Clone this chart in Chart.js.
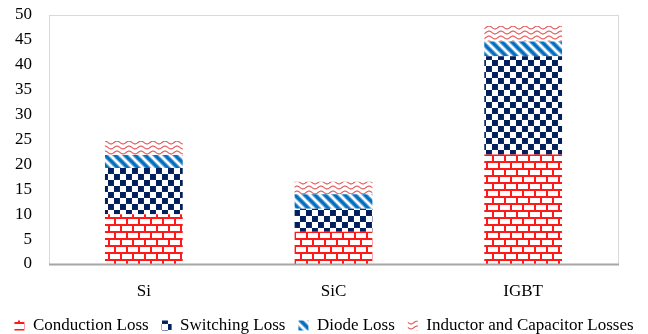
<!DOCTYPE html>
<html>
<head>
<meta charset="utf-8">
<script src="https://cdn.jsdelivr.net/npm/chart.js@4.4.1/dist/chart.umd.min.js"></script>
<style>
  html, body { margin: 0; padding: 0; background: #ffffff; }
  #wrap { width: 648px; height: 334px; position: relative; }
</style>
</head>
<body>
<div id="wrap"><canvas id="c" width="648" height="334"></canvas></div>
<script>
// Loss breakdown per device technology (stacked)
const categories = ['Si', 'SiC', 'IGBT'];
const seriesNames = ['Conduction Loss', 'Switching Loss', 'Diode Loss', 'Inductor and Capacitor Losses'];
const conductionLoss = [10.0, 6.5, 22.0];
const switchingLoss  = [9.3, 4.6, 19.7];
const diodeLoss      = [2.6, 2.9, 3.0];
const inductorCapLoss = [2.8, 2.5, 3.1];
const yTicks = [0, 5, 10, 15, 20, 25, 30, 35, 40, 45, 50];

function makeTile(w, h, draw) {
  const cv = document.createElement('canvas');
  cv.width = w; cv.height = h;
  const g = cv.getContext('2d');
  g.fillStyle = '#ffffff';
  g.fillRect(0, 0, w, h);
  draw(g, w, h);
  return document.getElementById('c').getContext('2d').createPattern(cv, 'repeat');
}

// red brick fill
const brick = makeTile(12, 14, (g) => {
  g.fillStyle = '#ff1a1a';
  g.fillRect(0, 0, 12, 2);
  g.fillRect(0, 7, 12, 2);
  g.fillRect(0, 0, 2, 7);
  g.fillRect(6, 7, 2, 7);
});

// navy checkerboard
const checker = makeTile(12, 12, (g) => {
  g.fillStyle = '#0b2a66';
  g.fillRect(0, 0, 6, 6);
  g.fillRect(6, 6, 6, 6);
  g.fillStyle = '#001f5c';
  g.fillRect(0, 0, 5, 5);
  g.fillRect(6, 6, 5, 5);
});

// blue downward diagonal stripes
const diagonal = makeTile(10, 10, (g) => {
  for (const off of [-10, 0, 10]) {
    g.strokeStyle = '#7fb2e0';
    g.lineWidth = 5;
    g.beginPath(); g.moveTo(off - 2, -2); g.lineTo(off + 12, 12); g.stroke();
  }
  for (const off of [-10, 0, 10]) {
    g.strokeStyle = '#0070c0';
    g.lineWidth = 3;
    g.beginPath(); g.moveTo(off - 2, -2); g.lineTo(off + 12, 12); g.stroke();
  }
});

// red wavy lines
const waves = makeTile(12, 5, (g) => {
  g.strokeStyle = '#e65a5a';
  g.lineWidth = 1.2;
  g.beginPath();
  for (let x = 0; x <= 12; x += 0.5) {
    const y = 2.5 + 1.4 * Math.sin(x / 12 * Math.PI * 2);
    if (x === 0) g.moveTo(x, y); else g.lineTo(x, y);
  }
  g.stroke();
});

const fills = [brick, checker, diagonal, waves];
const seriesValues = [conductionLoss, switchingLoss, diodeLoss, inductorCapLoss];

// light frame around the plot area, darker baseline
const frame = {
  id: 'frame',
  beforeDatasetsDraw(chart) {
    const { ctx, chartArea: a } = chart;
    ctx.save();
    ctx.strokeStyle = '#d9d9d9';
    ctx.lineWidth = 1;
    ctx.strokeRect(Math.round(a.left) + 0.5, Math.round(a.top) + 0.5,
                   Math.round(a.right - a.left), Math.round(a.bottom - a.top));
    ctx.restore();
  },
  afterDatasetsDraw(chart) {
    const { ctx, chartArea: a } = chart;
    ctx.save();
    ctx.strokeStyle = '#a6a6a6';
    ctx.lineWidth = 2;
    ctx.beginPath();
    ctx.moveTo(a.left, Math.round(a.bottom) + 0.5);
    ctx.lineTo(a.right + 1, Math.round(a.bottom) + 0.5);
    ctx.stroke();
    ctx.restore();
  }
};

const serif = '"Liberation Serif", "Times New Roman", serif';

new Chart(document.getElementById('c'), {
  type: 'bar',
  data: {
    labels: categories,
    datasets: seriesNames.map((name, i) => ({
      label: name,
      data: seriesValues[i],
      backgroundColor: fills[i],
      borderWidth: 0,
      barPercentage: 0.41,
      categoryPercentage: 1.0
    }))
  },
  options: {
    responsive: false,
    animation: false,
    devicePixelRatio: 1,
    layout: { padding: { left: 0, right: 0, top: 15, bottom: -10 } },
    plugins: {
      tooltip: { enabled: false },
      legend: {
        position: 'bottom',
        labels: {
          color: '#000000',
          font: { family: serif, size: 17 },
          boxWidth: 10,
          boxHeight: 10,
          padding: 13
        }
      }
    },
    scales: {
      x: {
        stacked: true,
        grid: { display: false, drawTicks: false },
        border: { display: false },
        afterFit(scale) { scale.height = 40; scale.paddingLeft = 0; scale.paddingRight = 0; },
        ticks: { color: '#000000', font: { family: serif, size: 17 }, padding: 17 }
      },
      y: {
        stacked: true,
        min: 0,
        max: 50,
        afterBuildTicks(scale) { scale.ticks = yTicks.map(v => ({ value: v })); },
        afterFit(scale) { scale.width = 49; scale.paddingTop = 0; scale.paddingBottom = 0; },
        grid: { display: false, drawTicks: false },
        border: { display: false },
        ticks: { color: '#000000', font: { family: serif, size: 17 }, padding: 17, autoSkip: false }
      },
      // empty right-hand gutter so the plot frame ends short of the canvas edge
      gutter: {
        type: 'linear',
        position: 'right',
        display: true,
        afterFit(scale) { scale.width = 30; scale.paddingTop = 0; scale.paddingBottom = 0; },
        grid: { display: false, drawTicks: false },
        border: { display: false },
        ticks: { display: false }
      }
    }
  },
  plugins: [frame]
});
</script>
</body>
</html>
